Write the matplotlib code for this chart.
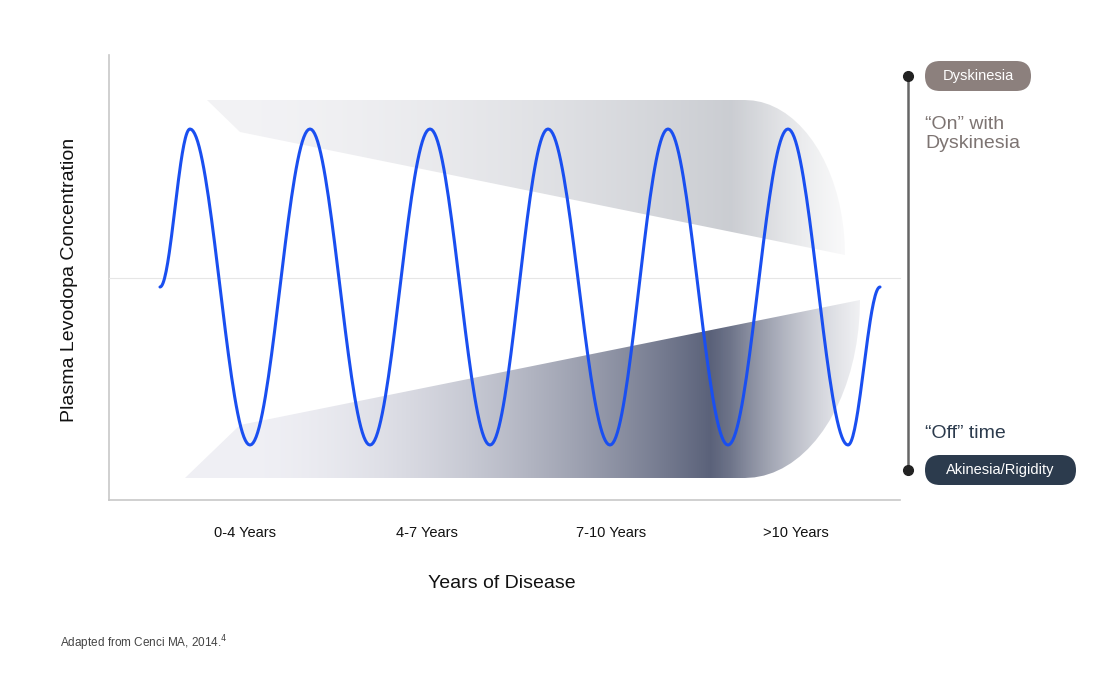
import numpy as np
import matplotlib
matplotlib.use("Agg")
import matplotlib.pyplot as plt
from matplotlib.patches import Polygon, FancyBboxPatch

plt.rcParams["font.family"] = "Liberation Sans"

# ---- data ----
categories = ["0-4 Years", "4-7 Years", "7-10 Years", ">10 Years"]
cat_pos = [245, 427, 611, 796]
# wave extremes (x position in px-space, relative level -1..1)
extreme_x = [160, 190, 250, 310, 370, 430, 490, 548, 610, 668, 728, 788, 848, 880]
extreme_v = [0, 1, -1, 1, -1, 1, -1, 1, -1, 1, -1, 1, -1, 0]

fig = plt.figure(figsize=(11, 6.87), dpi=100)
ax = fig.add_axes([0, 0, 1, 1])
ax.set_xlim(0, 1100); ax.set_ylim(687, 0); ax.axis("off")

def band(poly, c_light, c_dark, x0, x1, fade0, fade1, power):
    H, W = 687, 1100
    xs = np.arange(W)[None, :].repeat(H, 0).astype(float)
    t = np.clip((xs - x0) / (x1 - x0), 0, 1) ** power
    f = np.clip((fade1 - xs) / (fade1 - fade0), 0, 1)
    t = t * (0.4 + 0.6 * f)
    cl, cd = np.array(c_light), np.array(c_dark)
    img = cl[None, None, :] * (1 - t[..., None]) + cd[None, None, :] * t[..., None]
    alpha = np.clip(0.15 + 0.85 * f, 0, 1)
    rgba = np.dstack([img, alpha])
    im = ax.imshow(rgba, extent=(0, W, H, 0), zorder=1, interpolation="bilinear")
    p = Polygon(poly, closed=True, transform=ax.transData, fc="none", ec="none")
    ax.add_patch(p); im.set_clip_path(p)

th = np.linspace(0, np.pi / 2, 20)
up_right = [(745 + 100 * np.sin(a), 100 + 155 * (1 - np.cos(a))) for a in th]
upper = [(207, 100)] + up_right + [(845, 255), (240, 132)]
band(upper, (0.95, 0.95, 0.96), (0.78, 0.79, 0.81), 240, 760, 730, 850, 1.6)
lo_right = [(745 + 115 * np.sin(a), 478 - 178 * (1 - np.cos(a))) for a in th]
lower = [(185, 478)] + lo_right + [(240, 425)]
band(lower, (0.94, 0.94, 0.96), (0.31, 0.34, 0.44), 240, 730, 710, 865, 1.8)

ax.plot([109, 109], [55, 500], color="#c8c8c8", lw=1.2, zorder=2)
ax.plot([109, 900], [500, 500], color="#c8c8c8", lw=1.2, zorder=2)
ax.plot([109, 900], [278, 278], color="#e6e6e6", lw=0.8, zorder=2)

xs, ys = [], []
for i in range(len(extreme_x) - 1):
    xa, xb = extreme_x[i], extreme_x[i + 1]
    va, vb = extreme_v[i], extreme_v[i + 1]
    s = np.linspace(0, 1, 40)
    w = (1 - np.cos(np.pi * s)) / 2
    xs += list(xa + (xb - xa) * s)
    ys += list(va + (vb - va) * w)
ys = 287 - np.array(ys) * 158
ax.plot(xs, ys, color="#1a4ff0", lw=2.2, zorder=3, solid_capstyle="round")

for c, x in zip(categories, cat_pos):
    ax.text(x, 533, c, ha="center", va="center", fontsize=10.5, color="#111")
ax.text(502, 583, "Years of Disease", ha="center", va="center", fontsize=14, color="#111")
ax.text(70, 280, "Plasma Levodopa Concentration", ha="center", va="center",
        rotation=90, fontsize=14, color="#111")
ax.text(60, 643, "Adapted from Cenci MA, 2014.$^4$", ha="left", va="center", fontsize=8.5, color="#444")

ax.plot([908, 908], [76, 470], color="#666", lw=1.8, zorder=2)
ax.plot([908, 908], [76, 470], "o", color="#222", ms=7, zorder=3)
for x, y, w, txt, col in [(925, 76, 106, "Dyskinesia", "#8c807d"),
                          (925, 470, 151, "Akinesia/Rigidity", "#2c3b4d")]:
    ax.add_patch(FancyBboxPatch((x, y - 15), w, 30,
                 boxstyle="round,pad=0,rounding_size=15",
                 fc=col, ec="none", zorder=3))
    ax.text(x + w / 2, y, txt, ha="center", va="center", fontsize=10.5, color="white", zorder=4)
ax.text(925, 134, "\u201cOn\u201d with\nDyskinesia", ha="left", va="center",
        fontsize=14, color="#7d7472", linespacing=1.1)
ax.text(925, 433, "\u201cOff\u201d time", ha="left", va="center", fontsize=14, color="#2c3b4d")

fig.savefig("out.png", dpi=100)
